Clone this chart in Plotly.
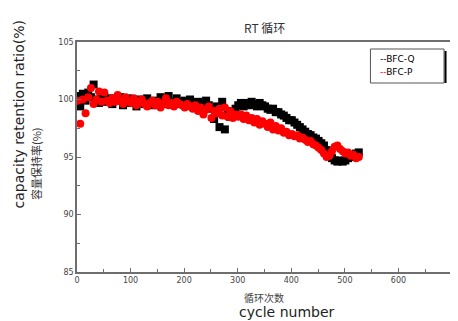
import plotly.graph_objects as go

cycles = list(range(1, 531, 5))

bfc_q = [
    100.3, 99.4, 100.5, 99.9, 100.6, 100.2, 101.3, 100.0, 99.7, 100.1,
    100.2, 99.8, 100.1, 99.6, 100.0, 99.9, 100.2, 99.5, 99.8, 100.1,
    99.7, 99.9, 99.4, 100.0, 99.8, 99.6, 100.1, 99.7, 99.5, 99.9,
    99.8, 100.2, 99.6, 99.9, 100.3, 99.7, 99.8, 100.1, 99.6, 99.8,
    99.9, 99.5, 100.0, 99.7, 99.4, 99.8, 99.6, 99.3, 99.9, 99.5,
    99.2, 98.3, 99.4, 97.6, 99.8, 97.4, 99.0, 98.5, 98.8, 99.2,
    99.5, 99.7, 99.4, 99.7, 99.5, 99.8, 99.6, 99.4, 99.7, 99.5,
    99.4, 99.2, 99.1, 99.2, 98.9, 98.9, 98.7, 98.6, 98.4, 98.2,
    98.2, 98.0, 97.8, 97.6, 97.4, 97.2, 97.0, 96.9, 96.7, 96.6,
    96.4, 96.2, 96.0, 95.6, 95.2, 94.9, 94.7, 94.6, 94.7, 94.6,
    94.7, 94.9, 95.0, 95.2, 95.3, 95.4,
]

bfc_p = [
    99.9, 97.9, 100.0, 98.8, 100.2, 101.0, 99.6, 100.0, 100.7, 99.8,
    100.6, 99.9, 99.7, 100.1, 99.8, 100.4, 99.9, 99.6, 100.2, 99.8,
    99.7, 100.1, 99.5, 99.8, 100.0, 99.6, 99.4, 99.7, 99.9, 99.5,
    99.8, 99.3, 99.6, 100.1, 99.5, 99.7, 99.4, 99.8, 99.6, 99.5,
    99.3, 99.6, 99.4, 99.2, 99.5, 99.0, 99.3, 98.7, 99.1, 99.4,
    98.4, 99.0, 98.8, 99.2, 98.6, 99.3, 98.5, 99.0, 98.4, 98.7,
    98.5, 98.7, 98.3, 98.6, 98.2, 98.4, 98.0, 98.3, 97.8, 98.1,
    97.9, 97.6, 98.0, 97.4, 97.7, 97.3, 97.5, 97.1, 97.2, 96.9,
    97.0, 96.8, 96.9, 96.6, 96.7, 96.5, 96.3, 96.4, 96.1, 96.0,
    95.8, 95.6, 95.3, 95.0, 95.1, 95.5, 95.9, 96.0, 95.7, 95.5,
    95.3, 95.4, 95.1, 95.2, 94.9, 95.0,
]

x_ticks = [0, 100, 200, 300, 400, 500, 600, 700]
y_ticks = [85, 90, 95, 100, 105]

fig = go.Figure()
fig.add_trace(go.Scatter(x=cycles, y=bfc_q, mode="markers", name="BFC-Q",
                         marker=dict(symbol="square", size=8, color="black",
                                     line=dict(width=0))))
fig.add_trace(go.Scatter(x=cycles, y=bfc_p, mode="markers", name="BFC-P",
                         marker=dict(symbol="circle", size=8, color="#ff0000",
                                     line=dict(width=0))))

axis_common = dict(showline=True, linecolor="#6e6e6e", linewidth=1.5, mirror=True,
                   ticks="inside", ticklen=4, tickcolor="#6e6e6e", tickwidth=1,
                   showgrid=False, zeroline=False,
                   tickfont=dict(family="DejaVu Sans", size=8, color="#444"))

fig.update_xaxes(range=[0, 700], tickvals=x_ticks, ticktext=[str(v) for v in x_ticks],
                 minor=dict(ticks="inside", ticklen=3, dtick=50, tickcolor="#6e6e6e"),
                 **axis_common)
fig.update_yaxes(range=[85, 105], tickvals=y_ticks, ticktext=[str(v) for v in y_ticks],
                 minor=dict(ticks="inside", ticklen=3, dtick=2.5, tickcolor="#6e6e6e"),
                 **axis_common)

cjk = "Noto Sans CJK SC"
annots = [
    dict(text="RT 循环", x=0.499, y=1.065, font=dict(family=cjk, size=12, color="#333")),
    dict(text="capacity retention ratio(%)", x=-0.156, y=0.683, textangle=-90,
         font=dict(family="DejaVu Sans", size=14, color="#222")),
    dict(text="容量保持率(%)", x=-0.109, y=0.47, textangle=-90,
         font=dict(family=cjk, size=11, color="#333")),
    dict(text="循环次数", x=0.499, y=-0.109, font=dict(family=cjk, size=10, color="#444")),
    dict(text="cycle number", x=0.56, y=-0.172, font=dict(family="DejaVu Sans", size=14, color="#222")),
    dict(text="--BFC-Q", x=(380 - 77) / 377, y=(272 - 59) / 230, xanchor="left",
         font=dict(family="DejaVu Sans", size=9, color="black")),
    dict(text="<span style='color:red'>--</span>BFC-P", x=(380 - 77) / 377, y=(272 - 72) / 230,
         xanchor="left", font=dict(family="DejaVu Sans", size=9, color="black")),
]
for a in annots:
    a.setdefault("xanchor", "center")
    fig.add_annotation(xref="paper", yref="paper", yanchor="middle", showarrow=False, **a)

fig.add_shape(type="rect", xref="paper", yref="paper",
              x0=(372 - 77) / 377, x1=(446 - 77) / 377,
              y0=(272 - 83) / 230, y1=(272 - 49) / 230,
              line=dict(color="#555", width=1), fillcolor="white", layer="below")
fig.add_shape(type="line", xref="paper", yref="paper",
              x0=(447.5 - 77) / 377, x1=(447.5 - 77) / 377,
              y0=(272 - 83) / 230, y1=(272 - 51) / 230,
              line=dict(color="black", width=2))

# page body has an 8px default margin, so the figure is sized to fit the window
fig.update_layout(width=450, height=313, showlegend=False,
                  margin=dict(l=69, r=4, t=34, b=49),
                  plot_bgcolor="white", paper_bgcolor="white")

fig.write_html("out.html")
